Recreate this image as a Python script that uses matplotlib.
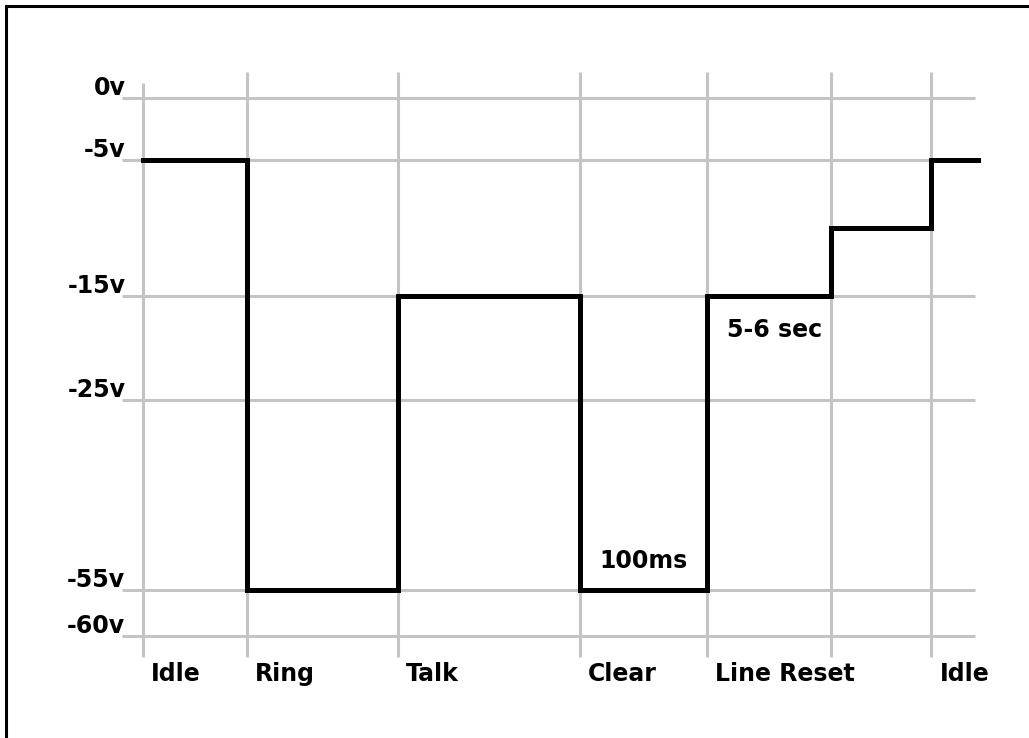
import numpy as np
import matplotlib
matplotlib.use("Agg")
import matplotlib.pyplot as plt
from matplotlib.lines import Line2D

# signal levels on the phone line (volts) and when they change
state_names = ["Idle", "Ring", "Talk", "Clear", "Line Reset", "", "Idle"]
event_times = [0.0, 1.0, 2.45, 4.2, 5.42, 6.62, 7.58]
end_time = 8.03
line_volts = [-5, -55, -15, -55, -15, -10, -5]

grid_levels = [0, -5, -15, -25, -55, -60]
level_labels = ["0v", "-5v", "-15v", "-25v", "-55v", "-60v"]

# the voltage axis is not linear: spacing of each level on the drawing
knot_volts = [-80, -60, -55, -25, -15, -5, 0, 10]
knot_pos = [-820, -636, -590, -400, -296, -160, -98, 26]


def fwd(v):
    return np.interp(v, knot_volts, knot_pos)


def inv(p):
    return np.interp(p, knot_pos, knot_volts)


W, H = 1029, 738
fig = plt.figure(figsize=(W / 100, H / 100), dpi=100)
fig.patch.set_facecolor("white")

# axes box (pixels): x 111.8..1006.2, y 67..663.6
ax = fig.add_axes([111.8 / W, (H - 663.6) / H, 894.4 / W, 596.6 / H])
ax.set_yscale("function", functions=(fwd, inv))
ax.set_xlim(-0.3, 8.3)
ax.set_ylim(-63, 2.5)
ax.axis("off")

grid_c = "#c4c4c4"
ax.hlines(grid_levels, -0.2, 8.0, color=grid_c, lw=2.2, zorder=1)
ax.vlines(event_times[0], -62.3, 1.2, color=grid_c, lw=2.2, zorder=1)
ax.vlines(event_times[1:], -62.3, 2.1, color=grid_c, lw=2.2, zorder=1)

t = event_times + [end_time]
v = line_volts + [line_volts[-1]]
ax.step(t, v, where="post", color="black", lw=3.6, zorder=3,
        solid_joinstyle="miter", solid_capstyle="projecting")

fs = 17
for lvl, lab in zip(grid_levels, level_labels):
    ax.annotate(lab, xy=(-0.17, lvl), xytext=(0, 2), textcoords="offset points",
                ha="right", va="baseline", fontsize=fs, fontweight="bold")

for tm, name in zip(event_times, state_names):
    if name:
        ax.annotate(name, xy=(tm, -60), xytext=(6, -18.5), textcoords="offset points",
                    ha="left", va="top", fontsize=fs, fontweight="bold")

ax.annotate("100ms", xy=(event_times[3], -55), xytext=(14.4, 15.8),
            textcoords="offset points", ha="left", va="baseline",
            fontsize=fs, fontweight="bold")
ax.annotate("5-6 sec", xy=(event_times[4], -15), xytext=(14.4, -29.5),
            textcoords="offset points", ha="left", va="baseline",
            fontsize=fs, fontweight="bold")

# frame drawn on the left and top edge of the picture
x0 = 5.5 / W
y0 = 1 - 5.5 / H
fig.add_artist(Line2D([x0, x0, 1], [0, y0, y0], transform=fig.transFigure,
                      color="black", lw=2.2, solid_joinstyle="miter"))

fig.savefig("out.png", dpi=100, facecolor="white")
